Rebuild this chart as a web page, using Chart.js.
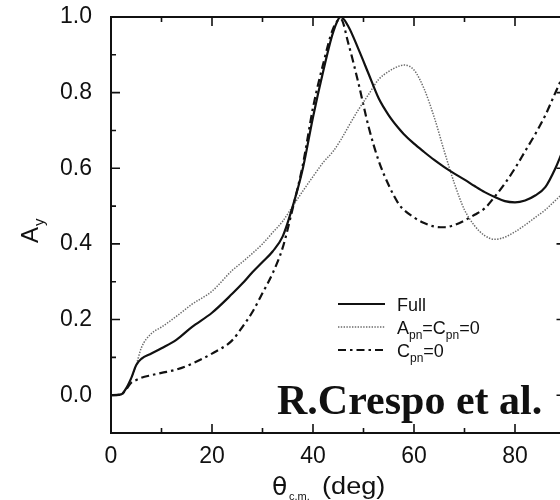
<!DOCTYPE html>
<html>
<head>
<meta charset="utf-8">
<title>Analysing power A_y</title>
<script src="https://cdn.jsdelivr.net/npm/chart.js@4.4.1/dist/chart.umd.min.js"></script>
<style>
  html, body { margin: 0; padding: 0; overflow: hidden; background: #fff; }
  #wrap { width: 580px; height: 500px; }
</style>
</head>
<body>
<div id="wrap"><canvas id="ayChart" width="580" height="500"></canvas></div>
<script>
// scattering angle (deg, c.m.)
const angles = [0, 2, 3, 4, 5, 6, 8, 10, 13, 16, 20, 24, 26, 28, 30, 32, 34, 36, 38, 40,
  42, 44, 45.5, 47, 49, 51, 53, 55, 57, 58, 60, 62, 64, 66, 68, 70, 72, 74, 76, 78,
  80, 82, 84, 86, 88, 90];

// A_y, full calculation
const full = [0, 0.002, 0.018, 0.045, 0.08, 0.096, 0.11, 0.124, 0.147, 0.18, 0.218, 0.268, 0.295, 0.325, 0.352, 0.38, 0.42, 0.5, 0.6, 0.735,
  0.855, 0.96, 1.0, 0.975, 0.915, 0.85, 0.785, 0.74, 0.705, 0.69, 0.665, 0.643, 0.622, 0.603, 0.586, 0.57, 0.553, 0.537, 0.524, 0.513,
  0.51, 0.515, 0.528, 0.55, 0.6, 0.665];

// A_y with A_pn = C_pn = 0
const noApnCpn = [0, 0.002, 0.018, 0.045, 0.08, 0.125, 0.163, 0.18, 0.209, 0.24, 0.275, 0.33, 0.352, 0.375, 0.4, 0.43, 0.46, 0.5, 0.54, 0.578,
  0.615, 0.645, 0.675, 0.71, 0.755, 0.795, 0.835, 0.856, 0.87, 0.873, 0.86, 0.81, 0.735, 0.645, 0.56, 0.49, 0.448, 0.422, 0.412, 0.418,
  0.432, 0.45, 0.47, 0.49, 0.515, 0.54];

// A_y with C_pn = 0
const noCpn = [0, 0.002, 0.015, 0.033, 0.04, 0.046, 0.053, 0.059, 0.068, 0.083, 0.11, 0.145, 0.18, 0.22, 0.27, 0.322, 0.39, 0.495, 0.61, 0.76,
  0.875, 0.97, 0.995, 0.93, 0.825, 0.71, 0.62, 0.555, 0.505, 0.49, 0.47, 0.455, 0.446, 0.444, 0.45, 0.462, 0.477, 0.494, 0.525, 0.56,
  0.6, 0.645, 0.69, 0.74, 0.8, 0.86];

const xTicks = [0, 20, 40, 60, 80];
const yTicks = [0, 0.2, 0.4, 0.6, 0.8, 1.0];

// legend text split into [text, isSubscript] runs
const legendLabels = [
  [['Full', false]],
  [['A', false], ['pn', true], ['=C', false], ['pn', true], ['=0', false]],
  [['C', false], ['pn', true], ['=0', false]]
];

const SANS = "'Liberation Sans', Arial, Helvetica, sans-serif";
const INK = '#111';

const styles = [
  { color: INK, width: 2.2, dash: [] },
  { color: '#6a6a6a', width: 1.5, dash: [1.4, 1.4] },
  { color: INK, width: 2.2, dash: [8, 4, 2.5, 4] }
];

function pts(vals) {
  return angles.map((a, i) => ({ x: a, y: vals[i] }));
}

function drawRuns(ctx, runs, x, y, size, subSize, subDrop) {
  runs.forEach(([txt, sub]) => {
    ctx.font = (sub ? subSize : size) + 'px ' + SANS;
    ctx.fillText(txt, x, sub ? y + subDrop : y);
    x += ctx.measureText(txt).width;
  });
}

// no extra room for labels hanging past the plot edges
function noLabelPadding(s) {
  s.paddingTop = 0;
  s.paddingBottom = 0;
  s.paddingLeft = 0;
  s.paddingRight = 0;
}

// frame with inward ticks, axis titles, legend and credit
const framePlugin = {
  id: 'frame',
  afterDraw(chart) {
    const { ctx, chartArea: a, scales: { x, y } } = chart;
    ctx.save();
    ctx.strokeStyle = INK;
    ctx.fillStyle = INK;
    ctx.lineWidth = 2;
    ctx.strokeRect(a.left, a.top, a.right - a.left, a.bottom - a.top);

    ctx.lineWidth = 1.6;
    ctx.beginPath();
    for (let i = 1; i <= 8; i++) {
      const px = x.getPixelForValue(i * 10);
      const len = i % 2 === 0 ? 9 : 5;
      ctx.moveTo(px, a.bottom); ctx.lineTo(px, a.bottom - len);
      ctx.moveTo(px, a.top); ctx.lineTo(px, a.top + len);
    }
    for (let j = 0; j <= 9; j++) {
      const py = y.getPixelForValue(j / 10);
      const len = j % 2 === 0 ? 9 : 5;
      ctx.moveTo(a.left, py); ctx.lineTo(a.left + len, py);
      ctx.moveTo(a.right, py); ctx.lineTo(a.right - len, py);
    }
    ctx.stroke();

    // x title: theta_c.m. (deg)
    ctx.textBaseline = 'alphabetic';
    ctx.textAlign = 'left';
    ctx.font = "25px 'DejaVu Sans', sans-serif";
    ctx.fillText('θ', 272, 495);
    ctx.font = '11px ' + SANS;
    ctx.fillText('c.m.', 289, 500);
    ctx.save();
    ctx.translate(322, 494);
    ctx.scale(1.18, 1);
    ctx.font = '23px ' + SANS;
    ctx.fillText('(deg)', 0, 0);
    ctx.restore();

    // y title: A_y, rotated
    ctx.save();
    ctx.translate(38, 243);
    ctx.rotate(-Math.PI / 2);
    ctx.font = '24px ' + SANS;
    ctx.fillText('A', 0, 0);
    const aw = ctx.measureText('A').width;
    ctx.font = '15px ' + SANS;
    ctx.fillText('y', aw + 1, 6);
    ctx.restore();

    // legend
    const rows = [304, 327, 350];
    const bases = [311, 334, 357];
    rows.forEach((ry, k) => {
      const s = styles[k];
      ctx.save();
      ctx.strokeStyle = s.color;
      ctx.lineWidth = s.width;
      ctx.setLineDash(s.dash);
      ctx.beginPath();
      ctx.moveTo(338, ry); ctx.lineTo(385, ry);
      ctx.stroke();
      ctx.restore();
      drawRuns(ctx, legendLabels[k], 397, bases[k], 18, 12, 5);
    });

    // credit
    ctx.font = "bold 42px 'Liberation Serif', 'Times New Roman', serif";
    ctx.fillText('R.Crespo et al.', 277, 414);
    ctx.restore();
  }
};

const names = ['Full', 'Apn=Cpn=0', 'Cpn=0'];
const series = [full, noApnCpn, noCpn];

new Chart(document.getElementById('ayChart'), {
  type: 'line',
  data: {
    datasets: series.map((vals, k) => ({
      label: names[k],
      data: pts(vals),
      borderColor: styles[k].color,
      borderWidth: styles[k].width,
      borderDash: styles[k].dash,
      pointRadius: 0,
      fill: false,
      cubicInterpolationMode: 'monotone'
    }))
  },
  options: {
    responsive: false,
    animation: false,
    devicePixelRatio: 1,
    layout: { padding: { top: 17, right: 14.5, left: 0, bottom: 0 } },
    plugins: { legend: { display: false }, tooltip: { enabled: false } },
    scales: {
      x: {
        type: 'linear',
        min: 0,
        max: 90,
        grid: { display: false },
        border: { display: false },
        afterBuildTicks: s => { s.ticks = xTicks.map(v => ({ value: v })); },
        afterFit: s => { s.height = 67; noLabelPadding(s); },
        ticks: {
          padding: 2,
          color: INK,
          maxRotation: 0,
          font: { family: SANS, size: 23 },
          callback: v => String(v)
        }
      },
      y: {
        min: -0.1,
        max: 1.0,
        grid: { display: false },
        border: { display: false },
        afterBuildTicks: s => { s.ticks = yTicks.map(v => ({ value: v })); },
        afterFit: s => { s.width = 111; noLabelPadding(s); },
        ticks: {
          padding: 11,
          color: INK,
          font: { family: SANS, size: 23 },
          callback: v => Number(v).toFixed(1)
        }
      }
    }
  },
  plugins: [framePlugin]
});
</script>
</body>
</html>
